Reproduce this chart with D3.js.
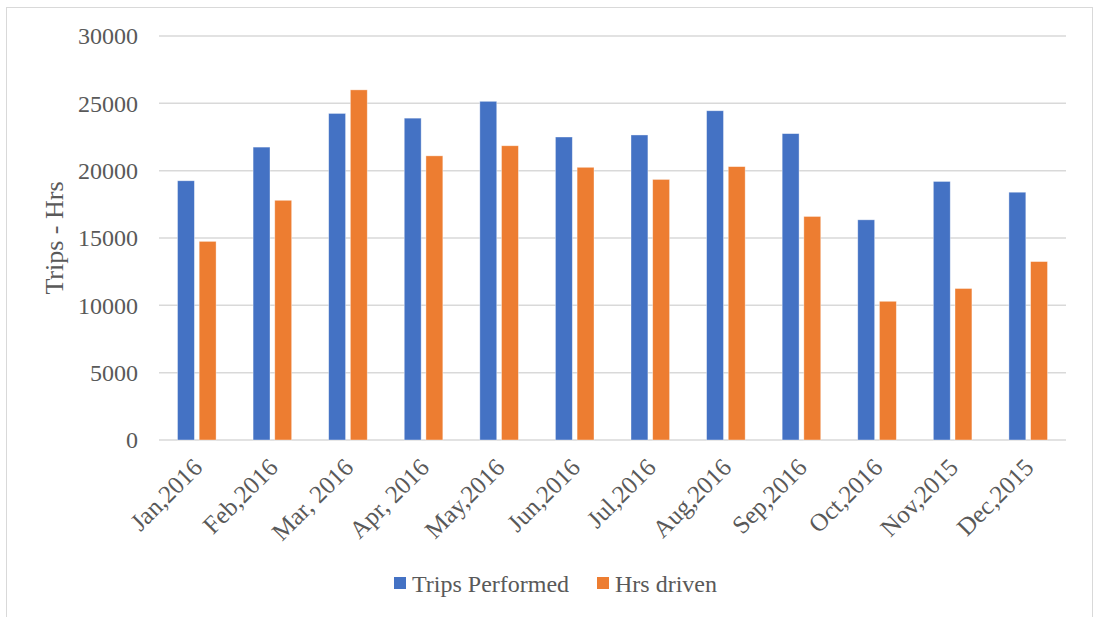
<!DOCTYPE html>
<meta charset="UTF-8">
<style>
	body { margin: 0; background: #fff; }
	text { font-family: "Liberation Serif", "Times New Roman", serif; fill: #595959; }
	.grid line { stroke: #d9d9d9; stroke-width: 1.5px; }
</style>
<body>
<script src="https://d3js.org/d3.v7.min.js"></script>
<script>
	const months = ["Jan,2016", "Feb,2016", "Mar, 2016", "Apr, 2016", "May,2016", "Jun,2016",
		"Jul,2016", "Aug,2016", "Sep,2016", "Oct,2016", "Nov,2015", "Dec,2015"];
	const tripsPerformed = [19250, 21750, 24250, 23900, 25150, 22500, 22650, 24450, 22750, 16350, 19200, 18400];
	const hrsDriven = [14750, 17800, 26000, 21100, 21850, 20250, 19350, 20300, 16600, 10300, 11250, 13250];
	const yTicks = [0, 5000, 10000, 15000, 20000, 25000, 30000];
	const seriesNames = ["Trips Performed", "Hrs driven"];
	const colors = ["#4472C4", "#ED7D31"];

	const serif = "'Liberation Serif', 'Times New Roman', serif";
	const width = 1094, height = 617;
	const margin = { top: 36, right: 28, bottom: 177, left: 159 };

	const svg = d3.select("body").append("svg")
		.attr("width", width)
		.attr("height", height)
		.attr("font-family", serif);

	// chart border
	svg.append("rect")
		.attr("x", 6.5).attr("y", 7.5)
		.attr("width", 1086).attr("height", 620)
		.attr("fill", "none")
		.attr("stroke", "#d9d9d9");

	const x = d3.scaleBand()
		.domain(months)
		.range([margin.left, width - margin.right]);

	const x1 = d3.scaleBand()
		.domain(seriesNames)
		.range([18.5, x.bandwidth() - 18.5])
		.paddingInner(0.22);

	const y = d3.scaleLinear()
		.domain([0, 30000])
		.range([height - margin.bottom, margin.top]);

	// gridlines
	svg.append("g")
		.attr("class", "grid")
		.selectAll("line")
		.data(yTicks)
		.join("line")
		.attr("x1", margin.left)
		.attr("x2", width - margin.right)
		.attr("y1", d => y(d))
		.attr("y2", d => y(d));

	// y axis labels
	const yAxis = svg.append("g")
		.attr("transform", `translate(${margin.left - 21},0)`)
		.call(d3.axisLeft(y).tickValues(yTicks).tickSize(0).tickPadding(0).tickFormat(d3.format("d")))
		.attr("font-family", serif)
		.attr("font-size", 24);
	yAxis.select(".domain").remove();
	yAxis.selectAll("text").attr("fill", "#595959");

	// bars
	const data = months.map((m, i) => ({ month: m, values: [tripsPerformed[i], hrsDriven[i]] }));
	const groups = svg.append("g")
		.selectAll("g")
		.data(data)
		.join("g")
		.attr("transform", d => `translate(${x(d.month)},0)`);

	groups.selectAll("rect")
		.data(d => d.values.map((v, k) => ({ key: seriesNames[k], value: v, k })))
		.join("rect")
		.attr("x", d => x1(d.key))
		.attr("width", x1.bandwidth())
		.attr("y", d => y(d.value))
		.attr("height", d => y(0) - y(d.value))
		.attr("fill", d => colors[d.k])
		.attr("stroke", "#fff")
		.attr("stroke-opacity", 0.5)
		.attr("stroke-width", 0.75);

	// x axis labels
	svg.append("g")
		.selectAll("text")
		.data(months)
		.join("text")
		.attr("transform", d => `translate(${x(d) + x.bandwidth() / 2 + 7},${y(0) + 29}) rotate(-45)`)
		.attr("text-anchor", "end")
		.attr("font-family", serif)
		.attr("font-size", 25)
		.text(d => d);

	// y axis title
	svg.append("text")
		.attr("transform", `translate(63,${(y(0) + y(30000)) / 2}) rotate(-90)`)
		.attr("text-anchor", "middle")
		.attr("font-family", serif)
		.attr("font-size", 26)
		.text("Trips - Hrs");

	// legend
	const legendX = [394, 597];
	const legend = svg.append("g")
		.selectAll("g")
		.data(seriesNames)
		.join("g")
		.attr("transform", (d, i) => `translate(${legendX[i]},577)`);
	legend.append("rect")
		.attr("width", 12).attr("height", 12)
		.attr("fill", (d, i) => colors[i]);
	legend.append("text")
		.attr("x", 18).attr("y", 14.5)
		.attr("font-family", serif)
		.attr("font-size", 24)
		.text(d => d);
</script>
</body>
